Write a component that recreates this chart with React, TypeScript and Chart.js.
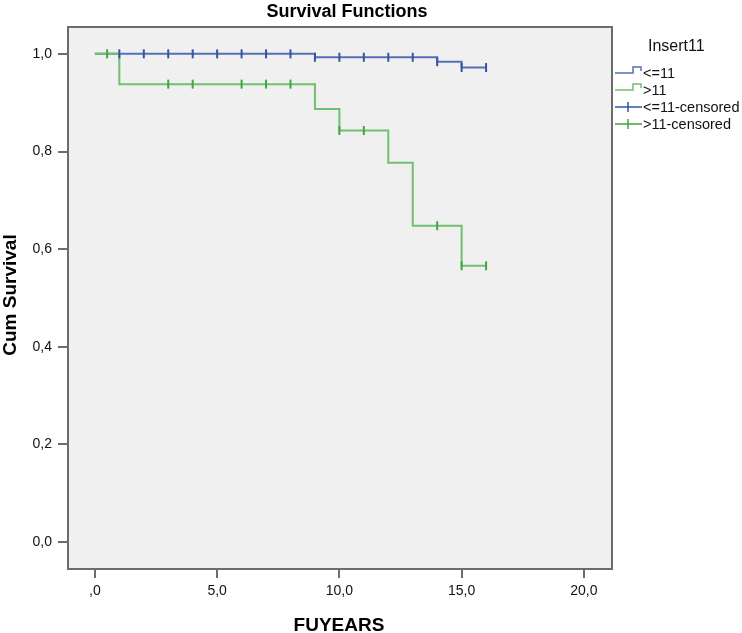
import React, { useEffect, useRef } from "react";
import { Chart, registerables } from "chart.js";

Chart.register(...registerables);

// ---- data ----
const LOW_TIMES = [0, 9, 14, 15, 16];
const LOW_SURV = [1.0, 0.993, 0.984, 0.972, 0.972];
const HIGH_TIMES = [0, 1, 9, 10, 12, 13, 15, 16];
const HIGH_SURV = [1.0, 0.938, 0.887, 0.843, 0.777, 0.648, 0.566, 0.566];
const LOW_CENS_TIMES = [1, 2, 3, 4, 5, 6, 7, 8, 9, 10, 11, 12, 13, 14, 15, 16];
const LOW_CENS_SURV = [1, 1, 1, 1, 1, 1, 1, 1, 0.993, 0.993, 0.993, 0.993, 0.993, 0.984, 0.972, 0.972];
const HIGH_CENS_TIMES = [0.5, 3, 4, 6, 7, 8, 10, 11, 14, 15, 16];
const HIGH_CENS_SURV = [1, 0.938, 0.938, 0.938, 0.938, 0.938, 0.843, 0.843, 0.648, 0.566, 0.566];
const Y_TICKS = [0, 0.2, 0.4, 0.6, 0.8, 1.0];
const X_TICKS = [0, 5, 10, 15, 20];
const LEGEND_TITLE = "Insert11";
const LEGEND_LABELS = ["<=11", ">11", "<=11-censored", ">11-censored"];
const CHART_TITLE = "Survival Functions";
const X_TITLE = "FUYEARS";
const Y_TITLE = "Cum Survival";

// ---- styles ----
const FONT = "'Liberation Sans', Arial, sans-serif";
const BLUE_LINE = "#5570b8";
const BLUE_MARK = "#3454a4";
const GREEN_LINE = "#70c070";
const GREEN_MARK = "#42a442";
const FRAME = "#6c6c6c";
const PLOT_BG = "#f0f0f0";

const zip = (xs: number[], ys: number[]) => xs.map((x, i) => ({ x, y: ys[i] }));
const fmt = (v: number, dropZero: boolean) => {
  const s = v.toFixed(1).replace(".", ",");
  return dropZero && s.startsWith("0,") ? s.slice(1) : s;
};

const decorPlugin = {
  id: "decor",
  beforeDatasetsDraw(chart: any) {
    const { ctx, chartArea: a } = chart;
    ctx.save();
    ctx.fillStyle = PLOT_BG;
    ctx.fillRect(a.left, a.top, a.right - a.left, a.bottom - a.top);
    ctx.restore();
  },
  afterDraw(chart: any) {
    const { ctx, chartArea: a } = chart;
    ctx.save();
    // frame
    ctx.strokeStyle = FRAME;
    ctx.lineWidth = 2;
    ctx.strokeRect(a.left, a.top, a.right - a.left, a.bottom - a.top);

    ctx.fillStyle = "#000";
    ctx.textBaseline = "alphabetic";
    // title
    ctx.font = `bold 18px ${FONT}`;
    ctx.textAlign = "center";
    ctx.fillText(CHART_TITLE, 347, 17);
    // x title
    ctx.font = `bold 19px ${FONT}`;
    ctx.fillText(X_TITLE, 339, 631);
    // y title
    ctx.save();
    ctx.translate(16, 295);
    ctx.rotate(-Math.PI / 2);
    ctx.fillText(Y_TITLE, 0, 0);
    ctx.restore();

    // legend
    ctx.textAlign = "left";
    ctx.textBaseline = "middle";
    ctx.font = `16px ${FONT}`;
    ctx.fillStyle = "#111";
    ctx.fillText(LEGEND_TITLE, 648, 47);
    ctx.font = `14.5px ${FONT}`;
    const rows = [73, 90, 107, 124];
    const colors = [BLUE_LINE, GREEN_LINE, BLUE_MARK, GREEN_MARK];
    LEGEND_LABELS.forEach((label, i) => {
      const y = rows[i];
      ctx.strokeStyle = colors[i];
      ctx.lineWidth = 1.5;
      ctx.beginPath();
      if (i < 2) {
        ctx.moveTo(615, y);
        ctx.lineTo(633, y);
        ctx.lineTo(633, y - 6);
        ctx.lineTo(641, y - 6);
        ctx.lineTo(641, y - 2);
      } else {
        ctx.moveTo(615, y);
        ctx.lineTo(642, y);
        ctx.moveTo(628, y - 5);
        ctx.lineTo(628, y + 5);
      }
      ctx.stroke();
      ctx.fillStyle = "#111";
      ctx.fillText(label, 643, y + 1);
    });
    ctx.restore();
  },
};

export default function App() {
  const ref = useRef<HTMLCanvasElement | null>(null);

  useEffect(() => {
    if (!ref.current) return;
    const chart = new Chart(ref.current, {
      type: "scatter",
      data: {
        datasets: [
          {
            label: LEGEND_LABELS[3],
            data: zip(HIGH_CENS_TIMES, HIGH_CENS_SURV),
            showLine: false,
            pointStyle: "line",
            rotation: 90,
            pointRadius: 4.5,
            pointBorderWidth: 2,
            borderColor: GREEN_MARK,
            backgroundColor: GREEN_MARK,
            order: 0,
          },
          {
            label: LEGEND_LABELS[2],
            data: zip(LOW_CENS_TIMES, LOW_CENS_SURV),
            showLine: false,
            pointStyle: "line",
            rotation: 90,
            pointRadius: 4.5,
            pointBorderWidth: 2,
            borderColor: BLUE_MARK,
            backgroundColor: BLUE_MARK,
            order: 1,
          },
          {
            label: LEGEND_LABELS[1],
            data: zip(HIGH_TIMES, HIGH_SURV),
            showLine: true,
            stepped: "before",
            pointRadius: 0,
            borderWidth: 2,
            borderColor: GREEN_LINE,
            fill: false,
            order: 2,
          },
          {
            label: LEGEND_LABELS[0],
            data: zip(LOW_TIMES, LOW_SURV),
            showLine: true,
            stepped: "before",
            pointRadius: 0,
            borderWidth: 2,
            borderColor: BLUE_LINE,
            fill: false,
            order: 3,
          },
        ],
      } as any,
      options: {
        responsive: false,
        animation: false,
        devicePixelRatio: 1,
        layout: { padding: { top: 27, right: 130, left: 0, bottom: 0 } },
        plugins: {
          legend: { display: false },
          tooltip: { enabled: false },
          title: { display: false },
        },
        scales: {
          x: {
            type: "linear",
            min: -1.1,
            max: 21.15,
            afterBuildTicks: (axis: any) => {
              axis.ticks = X_TICKS.map((v) => ({ value: v }));
            },
            afterFit: (axis: any) => {
              axis.height = 64;
            },
            grid: {
              drawOnChartArea: false,
              drawTicks: true,
              tickLength: 9,
              color: FRAME,
              lineWidth: 2,
            },
            border: { display: false },
            ticks: {
              padding: 5,
              autoSkip: false,
              maxRotation: 0,
              color: "#111",
              font: { family: FONT, size: 14 },
              callback: (v: any) => fmt(Number(v), true),
            },
          },
          y: {
            type: "linear",
            min: -0.055,
            max: 1.055,
            afterBuildTicks: (axis: any) => {
              axis.ticks = Y_TICKS.map((v) => ({ value: v }));
            },
            afterFit: (axis: any) => {
              axis.width = 68;
            },
            grid: {
              drawOnChartArea: false,
              drawTicks: true,
              tickLength: 10,
              color: FRAME,
              lineWidth: 2,
            },
            border: { display: false },
            ticks: {
              padding: 6,
              autoSkip: false,
              color: "#111",
              font: { family: FONT, size: 14 },
              callback: (v: any) => fmt(Number(v), false),
            },
          },
        },
      } as any,
      plugins: [decorPlugin],
    });
    return () => chart.destroy();
  }, []);

  return (
    <div style={{ position: "fixed", left: 0, top: 0, width: 742, height: 633, background: "#fff" }}>
      <canvas ref={ref} width={742} height={633} style={{ width: 742, height: 633, display: "block" }} />
    </div>
  );
}
